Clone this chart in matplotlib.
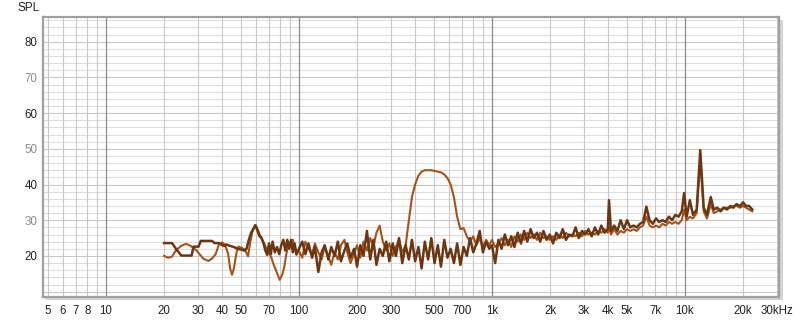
import matplotlib
matplotlib.use('Agg')
import matplotlib.pyplot as plt
from matplotlib.patches import Rectangle

# ---------------- data ----------------
freq_lo_a = [20, 22, 23.2, 24.6, 27.8, 28.4, 30.2, 31.0, 35.5, 36.5,
             38.5, 39.5, 41, 42, 44, 46, 48, 50, 52, 53.5,
             55, 56.5, 58, 59.5, 61, 62.5, 64, 65.5, 67, 68.5,
             70, 71.5, 73, 75, 77, 79, 81, 83, 85, 87,
             89, 91, 93, 95, 97]
spl_lo_a = [23.6, 23.6, 21.8, 20.1, 20.1, 22.6, 22.6, 24.2, 24.2, 23.6,
            23.6, 23.2, 22.8, 23.2, 22.8, 22.5, 22.0, 21.8, 21.5, 22.0,
            24.5, 26.5, 27.5, 28.6, 27.0, 25.5, 25.0, 23.6, 21.5, 20.3,
            23.5, 20.5, 24.0, 21.0, 22.5, 20.5, 23.0, 24.5, 21.5, 24.5,
            22.0, 24.5, 21.0, 23.5, 20.5]

freq_lo_b = [20, 21, 22, 23, 24.5, 26, 27.5, 29.5, 32, 34,
             35.5, 37, 38.5, 40, 41.5, 43, 44, 45, 46, 47.5,
             48.5, 50.5, 52.5, 54.5, 56, 57.5, 59, 60.5, 62, 64,
             66, 68, 70, 72, 74, 76.5, 79.5, 82, 84, 86,
             88.5, 91, 93, 95, 97]
spl_lo_b = [20.0, 19.5, 19.8, 21.5, 22.8, 23.4, 22.8, 21.5, 19.2, 18.6,
            19.3, 20.5, 23.2, 23.8, 23.0, 20.5, 16.5, 14.7, 16.5, 21.0,
            22.6, 22.3, 21.7, 19.9, 24.0, 27.0, 28.5, 28.0, 26.5, 25.0,
            23.5, 22.0, 20.8, 19.5, 17.5, 15.6, 13.3, 14.8, 17.0, 20.5,
            23.5, 24.0, 24.5, 22.5, 20.3]

freq_hi = [100, 104, 108, 112, 117, 121, 126, 131, 136, 142,
           147, 153, 159, 165, 172, 178, 185, 193, 200, 208,
           216, 225, 234, 243, 252, 262, 272, 283, 294, 306,
           318, 330, 343, 357, 371, 385, 400, 416, 432, 449,
           467, 485, 504, 524, 544, 566, 588, 611, 635, 660,
           686, 713, 741, 770, 800, 831, 864, 898, 933, 969,
           1000, 1039, 1080, 1122, 1166, 1212, 1259, 1308, 1359, 1413,
           1468, 1525, 1585, 1647, 1711, 1778, 1848, 1920, 1995, 2073,
           2154, 2239, 2326, 2417, 2512, 2610, 2712, 2818, 2929, 3043,
           3162, 3286, 3415, 3548, 3687, 3831, 3981, 4040, 4137, 4299,
           4467, 4642, 4823, 5012, 5208, 5412, 5623, 5843, 6072, 6310,
           6556, 6813, 7079, 7356, 7644, 7943, 8254, 8577, 8913, 9261,
           9624,
           9900, 10200, 10600, 11000, 11500, 12000, 12500, 13000, 13600, 14100,
           14700, 15300, 15900, 16500, 17200, 17800, 18500, 19300, 20000, 20700,
           21500, 22300]

spl_hi_a = [22.0, 24.0, 20.5, 23.5, 19.5, 22.5, 15.5, 21.0, 23.0, 19.0,
            22.5, 20.0, 24.0, 18.5, 21.5, 23.5, 19.5, 22.0, 17.0, 23.0,
            20.0, 27.0, 19.0, 24.5, 17.5, 22.0, 20.0, 24.0, 18.5, 23.5,
            20.0, 25.0, 18.0, 23.0, 19.0, 24.5, 18.5, 22.5, 16.5, 24.0,
            19.0, 25.0, 18.0, 23.0, 17.0, 24.5, 19.5, 22.0, 18.0, 23.5,
            17.5, 22.5, 20.0, 25.0, 21.0, 23.5, 27.0, 21.0, 24.0, 22.0,
            23.0, 18.0, 24.5, 22.0, 26.0, 23.0, 25.5, 22.5, 26.5, 23.5,
            27.0, 24.0, 27.5, 25.0, 26.5, 24.0, 27.0, 24.5, 26.0, 23.5,
            26.5, 25.0, 27.5, 24.5, 26.0, 25.5, 28.0, 25.0, 27.0, 26.0,
            27.5, 25.5, 28.0, 26.0, 28.5, 26.5, 27.5, 35.6, 27.0, 28.5,
            27.0, 30.0, 27.5, 30.0, 28.0, 28.5, 28.0, 29.0, 29.5, 33.8,
            30.0, 29.0, 30.5, 29.5, 30.0, 29.5, 31.0, 30.0, 31.5, 31.0,
            32.5,
            37.6, 31.0, 35.6, 31.5, 33.0, 49.6, 33.5, 31.5, 36.5, 33.0,
            33.5, 32.5, 33.5, 33.0, 34.0, 33.5, 34.5, 34.0, 35.0, 34.0,
            34.0, 33.0]

spl_hi_b = [21.5, 19.5, 24.0, 22.0, 20.5, 23.5, 21.0, 19.0, 22.5, 20.0,
            17.5, 21.0, 19.0, 23.0, 24.5, 21.0, 18.0, 20.5, 23.0, 19.5,
            24.0, 21.5, 25.0, 22.5, 26.5, 28.5, 24.0, 21.5, 23.5, 20.0,
            22.5, 24.5, 21.0, 23.0, 30.0, 36.5, 40.0, 42.5, 43.6, 44.0,
            44.0, 44.0, 43.8, 43.6, 43.4, 42.8, 41.8, 40.0, 36.5, 31.0,
            27.5, 27.8, 25.5, 24.0, 25.5, 23.0, 25.0, 22.5, 24.5, 23.0,
            24.5, 22.5, 23.5, 25.0, 23.0, 24.5, 22.5, 25.5, 24.0, 26.0,
            24.5, 26.5, 25.0, 26.0, 24.5, 26.5, 25.0, 25.5, 24.5, 25.5,
            24.5, 26.0, 25.0, 26.5, 25.5, 26.0, 25.5, 26.5, 25.5, 27.0,
            26.0, 26.5, 26.0, 27.0, 26.5, 27.5, 26.5, 28.0, 26.0, 27.5,
            26.0, 27.0, 26.5, 27.5, 27.0, 27.5, 27.0, 28.0, 28.5, 31.0,
            28.5, 28.0, 28.5, 28.0, 29.0, 28.5, 29.5, 29.0, 29.5, 29.0,
            30.0,
            33.0, 30.0, 31.0, 30.5, 32.0, 47.0, 32.5, 30.5, 34.5, 32.0,
            32.5, 33.0, 33.5, 33.5, 33.5, 34.0, 34.0, 33.5, 34.0, 33.5,
            33.0, 32.5]

x_tick_vals = [5, 6, 7, 8, 10, 20, 30, 40, 50, 70, 100, 200, 300, 500, 700,
               1000, 2000, 3000, 4000, 5000, 7000, 10000, 20000, 30000]
x_tick_labels = ['5', '6', '7', '8', '10', '20', '30', '40', '50', '70', '100',
                 '200', '300', '500', '700', '1k', '2k', '3k', '4k', '5k', '7k',
                 '10k', '20k', '30kHz']
y_tick_vals = [20, 30, 40, 50, 60, 70, 80]

freq_a = freq_lo_a + freq_hi
spl_a = spl_lo_a + spl_hi_a
freq_b = freq_lo_b + freq_hi
spl_b = spl_lo_b + spl_hi_b

# ---------------- figure ----------------
plt.rcParams['font.family'] = ['Liberation Sans', 'DejaVu Sans']
W, H = 800, 321
fig = plt.figure(figsize=(W / 100, H / 100), dpi=100)
fig.patch.set_facecolor('white')

x0, x1, yt, yb = 43, 779, 17, 297
ax = fig.add_axes([x0 / W, (H - yb) / H, (x1 - x0) / W, (yb - yt) / H])

# shadow behind frame
shadow = Rectangle(((x0 + 2) / W, (H - yb - 3) / H), (x1 - x0 + 2) / W, (yb - yt) / H,
                   transform=fig.transFigure, facecolor='#D4D4D4', edgecolor='none', zorder=-5)
fig.patches.append(shadow)

ax.set_xscale('log')
ax.set_xlim(4.72, 30700)
ax.set_ylim(8.5, 86.9)
ax.set_facecolor('white')

# horizontal grid lines
for v in range(10, 87, 2):
    c = '#C8C8C8' if v % 10 == 0 else '#DEDEDE'
    ax.axhline(v, color=c, lw=0.8, zorder=1)

# vertical grid lines
for dec in [1, 10, 100, 1000, 10000]:
    for m in range(1, 10):
        f = dec * m
        if f < 5 or f > 30000:
            continue
        if m == 1:
            ax.axvline(f, color='#8C8C8C', lw=0.9, zorder=1.5)
        else:
            ax.axvline(f, color='#C8C8C8', lw=0.8, zorder=1)

ax.plot(freq_b, spl_b, color='#A3541C', lw=1.5, zorder=3, solid_joinstyle='round')
ax.plot(freq_a, spl_a, color='#6B3712', lw=1.8, zorder=4, solid_joinstyle='round')

ax.xaxis.set_major_locator(matplotlib.ticker.FixedLocator(x_tick_vals))
ax.xaxis.set_minor_locator(matplotlib.ticker.NullLocator())
ax.set_xticklabels(x_tick_labels)
ax.set_yticks(y_tick_vals)
ax.set_yticklabels([str(v) for v in y_tick_vals])
ax.tick_params(axis='both', length=0, labelsize=8.3)
ax.tick_params(axis='x', pad=6, colors='#222222')
ax.tick_params(axis='y', pad=4)
for lab, v in zip(ax.get_yticklabels(), y_tick_vals):
    lab.set_color('#222222' if v % 20 == 0 else '#8A8A8A')

for s in ax.spines.values():
    s.set_color('#A0A0A0')
    s.set_linewidth(1.6)

fig.text(17 / W, 1 - 8 / H, 'SPL', fontsize=8.5, color='#222222', ha='left', va='center')

fig.savefig('out.png', dpi=100, facecolor='white')
